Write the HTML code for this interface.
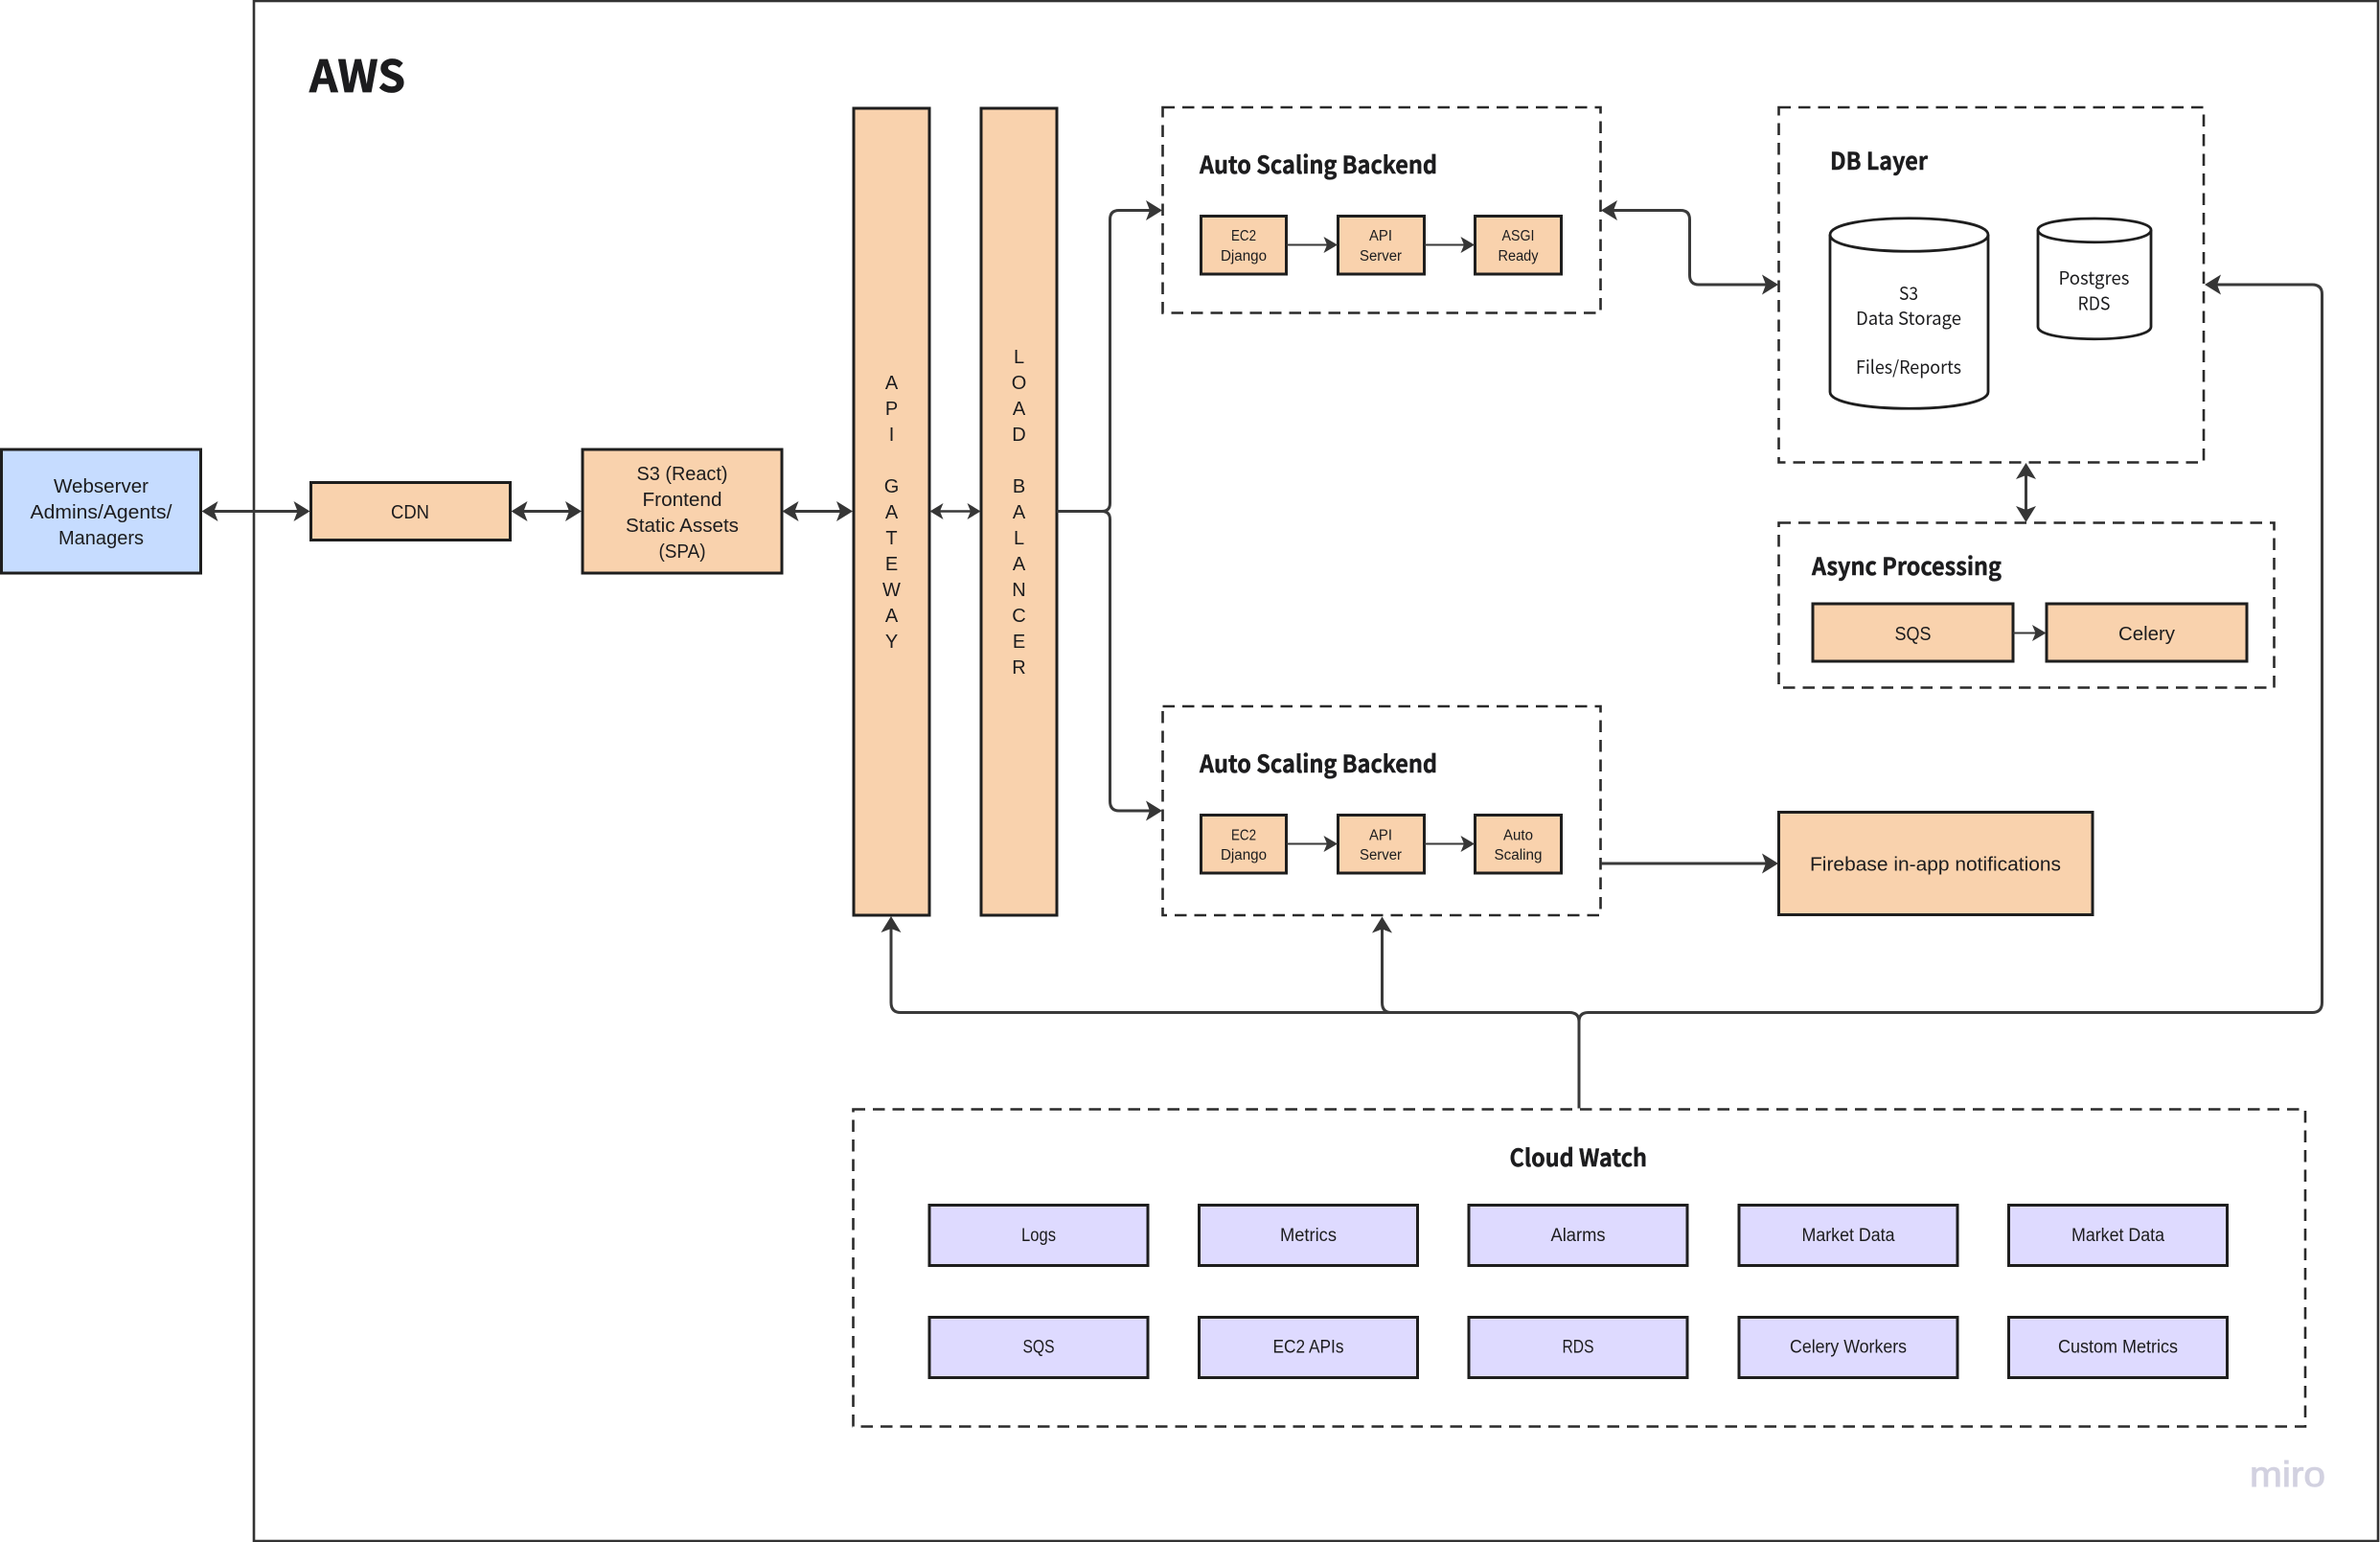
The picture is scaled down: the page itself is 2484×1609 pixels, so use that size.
<!DOCTYPE html>
<html>
<head>
<meta charset="utf-8">
<title>AWS Architecture</title>
<style>
html,body{margin:0;padding:0;background:#fff;width:2484px;height:1609px;overflow:hidden}
svg{display:block}
text{fill:#1c1c1e;text-anchor:middle;font-family:"Liberation Sans",sans-serif}
.f20{font-size:20px}
.f19{font-size:19px}
.f15{font-size:15.5px}
.n{font-family:"Noto Sans CJK JP","Liberation Sans",sans-serif}
.title{font-family:"Noto Sans CJK JP","Liberation Sans",sans-serif;font-weight:700;font-size:25px;text-anchor:start;stroke:#1c1c1e;stroke-width:.45}
.box{stroke:#1e1e1e;stroke-width:3}
.o{fill:#f9d2ad}
.b{fill:#c6dcff}
.p{fill:#dedaff}
.dash{fill:none;stroke:#2a2a2a;stroke-width:2.6;stroke-dasharray:12.5 8}
.line{fill:none;stroke:#3a3a3a;stroke-width:3}
.thin{fill:none;stroke:#3a3a3a;stroke-width:2}
.cyl{fill:#fff;stroke:#1e1e1e;stroke-width:2.8}
.hd{fill:#363636}
</style>
</head>
<body>
<svg width="2484" height="1609" viewBox="0 0 2484 1609" xmlns="http://www.w3.org/2000/svg">
<defs>
<path id="h" class="hd" d="M-17,-10.5 L0,0 L-17,10.5 L-13,0 Z"/>
<path id="m" class="hd" d="M-14,-8.5 L0,0 L-14,8.5 L-10.5,0 Z"/>
<path id="s" class="hd" d="M-14.5,-8.5 L0,0 L-14.5,8.5 L-11,0 Z"/>
</defs>

<rect x="265" y="1" width="2217" height="1607" fill="#fff" stroke="#333" stroke-width="2.6"/>
<text class="title" x="323" y="96" style="font-size:46px;stroke-width:.8" textLength="100" lengthAdjust="spacingAndGlyphs">AWS</text>

<!-- left chain -->
<rect class="box b" x="1.5" y="469" width="208" height="129"/>
<text class="f20" x="105.5" y="514" textLength="99" lengthAdjust="spacingAndGlyphs">Webserver</text>
<text class="f20" x="105.5" y="541" textLength="148" lengthAdjust="spacingAndGlyphs">Admins/Agents/</text>
<text class="f20" x="105.5" y="568" textLength="89" lengthAdjust="spacingAndGlyphs">Managers</text>

<rect class="box o" x="324.5" y="503.5" width="208" height="60"/>
<text class="f20" x="428" y="541" textLength="40" lengthAdjust="spacingAndGlyphs">CDN</text>

<rect class="box o" x="608" y="469" width="208" height="129"/>
<text class="f20" x="712" y="501" textLength="95" lengthAdjust="spacingAndGlyphs">S3 (React)</text>
<text class="f20" x="712" y="528" textLength="83" lengthAdjust="spacingAndGlyphs">Frontend</text>
<text class="f20" x="712" y="555" textLength="118" lengthAdjust="spacingAndGlyphs">Static Assets</text>
<text class="f20" x="712" y="582" textLength="49" lengthAdjust="spacingAndGlyphs">(SPA)</text>

<!-- gateway / LB -->
<rect class="box o" x="891" y="113" width="79" height="842"/>
<rect class="box o" x="1024" y="113" width="79" height="842"/>
<g class="f20">
<text x="930.5" y="406">A</text><text x="930.5" y="433">P</text><text x="930.5" y="460">I</text>
<text x="930.5" y="514">G</text><text x="930.5" y="541">A</text><text x="930.5" y="568">T</text>
<text x="930.5" y="595">E</text><text x="930.5" y="622">W</text><text x="930.5" y="649">A</text><text x="930.5" y="676">Y</text>
<text x="1063.5" y="379">L</text><text x="1063.5" y="406">O</text><text x="1063.5" y="433">A</text><text x="1063.5" y="460">D</text>
<text x="1063.5" y="514">B</text><text x="1063.5" y="541">A</text><text x="1063.5" y="568">L</text><text x="1063.5" y="595">A</text>
<text x="1063.5" y="622">N</text><text x="1063.5" y="649">C</text><text x="1063.5" y="676">E</text><text x="1063.5" y="703">R</text>
</g>

<!-- backend 1 -->
<rect class="dash" x="1213.5" y="112" width="457" height="214.5"/>
<text class="title" x="1252" y="181" textLength="248" lengthAdjust="spacingAndGlyphs">Auto Scaling Backend</text>
<rect class="box o" x="1253.5" y="225.5" width="89" height="60.5"/>
<rect class="box o" x="1396.5" y="225.5" width="90" height="60.5"/>
<rect class="box o" x="1539.5" y="225.5" width="90" height="60.5"/>
<text class="f15" x="1298" y="251" textLength="26" lengthAdjust="spacingAndGlyphs">EC2</text>
<text class="f15" x="1298" y="272" textLength="48" lengthAdjust="spacingAndGlyphs">Django</text>
<text class="f15" x="1441" y="251" textLength="24" lengthAdjust="spacingAndGlyphs">API</text>
<text class="f15" x="1441" y="272" textLength="44" lengthAdjust="spacingAndGlyphs">Server</text>
<text class="f15" x="1584.5" y="251" textLength="34" lengthAdjust="spacingAndGlyphs">ASGI</text>
<text class="f15" x="1584.5" y="272" textLength="42" lengthAdjust="spacingAndGlyphs">Ready</text>
<path class="thin" d="M1343,255.5 H1388 M1487,255.5 H1531"/>
<use href="#s" transform="translate(1396,255.5)"/>
<use href="#s" transform="translate(1539,255.5)"/>

<!-- backend 2 -->
<rect class="dash" x="1213.5" y="737" width="457" height="218"/>
<text class="title" x="1252" y="806" textLength="248" lengthAdjust="spacingAndGlyphs">Auto Scaling Backend</text>
<rect class="box o" x="1253.5" y="850.5" width="89" height="60.5"/>
<rect class="box o" x="1396.5" y="850.5" width="90" height="60.5"/>
<rect class="box o" x="1539.5" y="850.5" width="90" height="60.5"/>
<text class="f15" x="1298" y="876.5" textLength="26" lengthAdjust="spacingAndGlyphs">EC2</text>
<text class="f15" x="1298" y="897" textLength="48" lengthAdjust="spacingAndGlyphs">Django</text>
<text class="f15" x="1441" y="876.5" textLength="24" lengthAdjust="spacingAndGlyphs">API</text>
<text class="f15" x="1441" y="897" textLength="44" lengthAdjust="spacingAndGlyphs">Server</text>
<text class="f15" x="1584.5" y="876.5" textLength="31" lengthAdjust="spacingAndGlyphs">Auto</text>
<text class="f15" x="1584.5" y="897" textLength="50" lengthAdjust="spacingAndGlyphs">Scaling</text>
<path class="thin" d="M1343,880.5 H1388 M1487,880.5 H1531"/>
<use href="#s" transform="translate(1396,880.5)"/>
<use href="#s" transform="translate(1539,880.5)"/>

<!-- DB layer -->
<rect class="dash" x="1856.5" y="112" width="443.5" height="370.5"/>
<text class="title" x="1910" y="177" textLength="102" lengthAdjust="spacingAndGlyphs">DB Layer</text>
<path class="cyl" d="M1910,245 C1910,222 2075,222 2075,245 V409 C2075,432 1910,432 1910,409 Z"/>
<path class="cyl" fill="none" d="M1910,245 C1910,268 2075,268 2075,245"/>
<text class="n f19" x="1992" y="313" textLength="20" lengthAdjust="spacingAndGlyphs">S3</text>
<text class="n f19" x="1992" y="339" textLength="110" lengthAdjust="spacingAndGlyphs">Data Storage</text>
<text class="n f19" x="1992" y="390" textLength="110" lengthAdjust="spacingAndGlyphs">Files/Reports</text>
<path class="cyl" d="M2127,240 C2127,224 2245,224 2245,240 V341 C2245,358 2127,358 2127,341 Z"/>
<path class="cyl" fill="none" d="M2127,240 C2127,257 2245,257 2245,240"/>
<text class="n f19" x="2185.5" y="297" textLength="74" lengthAdjust="spacingAndGlyphs">Postgres</text>
<text class="n f19" x="2185.5" y="323.5" textLength="34" lengthAdjust="spacingAndGlyphs">RDS</text>

<!-- Async -->
<rect class="dash" x="1856.5" y="545.5" width="517" height="172"/>
<text class="title" x="1891" y="600" textLength="198" lengthAdjust="spacingAndGlyphs">Async Processing</text>
<rect class="box o" x="1892" y="630" width="209" height="60"/>
<rect class="box o" x="2136" y="630" width="209" height="60"/>
<text class="f20" x="1996.5" y="668" textLength="38" lengthAdjust="spacingAndGlyphs">SQS</text>
<text class="f20" x="2240.5" y="668" textLength="59" lengthAdjust="spacingAndGlyphs">Celery</text>
<path class="thin" d="M2101,660.5 H2127"/>
<use href="#s" transform="translate(2135.5,660.5)"/>

<!-- Firebase -->
<rect class="box o" x="1856.5" y="847.5" width="327.5" height="107"/>
<text class="f20" x="2020" y="908.5" textLength="262" lengthAdjust="spacingAndGlyphs">Firebase in-app notifications</text>

<!-- Cloud Watch -->
<rect class="dash" x="890.5" y="1157.5" width="1515.5" height="331"/>
<text class="title" x="1575.5" y="1217" textLength="143.5" lengthAdjust="spacingAndGlyphs">Cloud Watch</text>
<g>
<rect class="box p" x="970" y="1257.5" width="228" height="63"/>
<rect class="box p" x="1251.5" y="1257.5" width="228" height="63"/>
<rect class="box p" x="1533" y="1257.5" width="228" height="63"/>
<rect class="box p" x="1815" y="1257.5" width="228" height="63"/>
<rect class="box p" x="2096.5" y="1257.5" width="228" height="63"/>
<rect class="box p" x="970" y="1374.5" width="228" height="63"/>
<rect class="box p" x="1251.5" y="1374.5" width="228" height="63"/>
<rect class="box p" x="1533" y="1374.5" width="228" height="63"/>
<rect class="box p" x="1815" y="1374.5" width="228" height="63"/>
<rect class="box p" x="2096.5" y="1374.5" width="228" height="63"/>
</g>
<g class="f19">
<text x="1084" y="1295" textLength="36" lengthAdjust="spacingAndGlyphs">Logs</text>
<text x="1365.5" y="1295" textLength="59" lengthAdjust="spacingAndGlyphs">Metrics</text>
<text x="1647" y="1295" textLength="57" lengthAdjust="spacingAndGlyphs">Alarms</text>
<text x="1929" y="1295" textLength="97" lengthAdjust="spacingAndGlyphs">Market Data</text>
<text x="2210.5" y="1295" textLength="97" lengthAdjust="spacingAndGlyphs">Market Data</text>
<text x="1084" y="1411.5" textLength="33" lengthAdjust="spacingAndGlyphs">SQS</text>
<text x="1365.5" y="1411.5" textLength="74" lengthAdjust="spacingAndGlyphs">EC2 APIs</text>
<text x="1647" y="1411.5" textLength="33" lengthAdjust="spacingAndGlyphs">RDS</text>
<text x="1929" y="1411.5" textLength="122" lengthAdjust="spacingAndGlyphs">Celery Workers</text>
<text x="2210.5" y="1411.5" textLength="125" lengthAdjust="spacingAndGlyphs">Custom Metrics</text>
</g>

<text x="2387.5" y="1551" style="fill:#d2d1e0;stroke:#d2d1e0;stroke-width:.9;font-size:37px;font-weight:400" textLength="79" lengthAdjust="spacingAndGlyphs">miro</text>

<!-- connectors -->
<path class="line" d="M220,533.5 H314"/>
<use href="#h" transform="translate(210.5,533.5) rotate(180)"/>
<use href="#h" transform="translate(323.5,533.5)"/>
<path class="line" d="M543,533.5 H598"/>
<use href="#h" transform="translate(533.5,533.5) rotate(180)"/>
<use href="#h" transform="translate(607,533.5)"/>
<path class="line" d="M826,533.5 H881"/>
<use href="#h" transform="translate(816.5,533.5) rotate(180)"/>
<use href="#h" transform="translate(890,533.5)"/>
<path class="thin" d="M978,533.5 H1015" style="stroke-width:2.4"/>
<use href="#m" transform="translate(970.5,533.5) rotate(180)"/>
<use href="#m" transform="translate(1023.5,533.5)"/>

<path class="line" d="M1103,533.5 H1150 Q1158.5,533.5 1158.5,525 V229 Q1158.5,219.5 1168,219.5 H1204"/>
<use href="#h" transform="translate(1213,219.5)"/>
<path class="line" d="M1150,533.5 Q1158.5,533.5 1158.5,542 V836 Q1158.5,846 1168,846 H1204"/>
<use href="#h" transform="translate(1213,846)"/>

<path class="line" d="M1680,219.5 H1754 Q1763.5,219.5 1763.5,229 V287 Q1763.5,297 1773,297 H1847"/>
<use href="#h" transform="translate(1671,219.5) rotate(180)"/>
<use href="#h" transform="translate(1856,297)"/>

<path class="line" d="M2114.5,492 V536"/>
<use href="#h" transform="translate(2114.5,483) rotate(-90)"/>
<use href="#h" transform="translate(2114.5,545) rotate(90)"/>

<path class="line" d="M1671,901 H1847"/>
<use href="#h" transform="translate(1856,901)"/>

<path class="line" d="M1648,1156.5 V1066 Q1648,1056.5 1638,1056.5 H940 Q930,1056.5 930,1046 V965"/>
<use href="#h" transform="translate(930,956) rotate(-90)"/>
<path class="line" d="M1452,1056.5 Q1442.5,1056.5 1442.5,1046 V966"/>
<use href="#h" transform="translate(1442.5,956.5) rotate(-90)"/>
<path class="line" d="M1648,1066 Q1648,1056.5 1658,1056.5 H2413 Q2423.5,1056.5 2423.5,1046 V307 Q2423.5,297 2413,297 H2310"/>
<use href="#h" transform="translate(2301,297) rotate(180)"/>
</svg>
</body>
</html>
